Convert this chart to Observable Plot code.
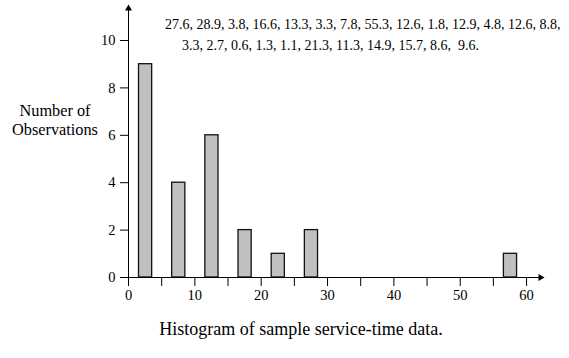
<!DOCTYPE html>
<html><head><meta charset="utf-8">
<script src="https://cdn.jsdelivr.net/npm/d3@7"></script>
<script src="https://cdn.jsdelivr.net/npm/@observablehq/plot@0.6"></script>
<style>
body{margin:0;background:#fff;}
#wrap{position:relative;width:569px;height:358px;font-family:"Liberation Serif","Times New Roman",serif;color:#000;}
#chart{position:absolute;left:0;top:0;}
.ann{position:absolute;white-space:pre;font-size:14px;line-height:1;}
</style></head>
<body><div id="wrap"><div id="chart"></div></div>
<script>
// Sample service-time data (as printed on the chart)
const serviceTimes = [27.6, 28.9, 3.8, 16.6, 13.3, 3.3, 7.8, 55.3, 12.6, 1.8, 12.9, 4.8, 12.6, 8.8,
  3.3, 2.7, 0.6, 1.3, 1.1, 21.3, 11.3, 14.9, 15.7, 8.6, 9.6];
const binEdges = [0, 5, 10, 15, 20, 25, 30, 35, 40, 45, 50, 55, 60];
const xTickLabels = [0, 10, 20, 30, 40, 50, 60];
const yTicks = [0, 2, 4, 6, 8, 10];
const yLabelLines = ["Number of", "Observations"];
const captionText = "Histogram of sample service-time data.";
const xMax = 62.1, yMax = 11.35;

const plot = Plot.plot({
  width: 569, height: 307,
  marginLeft: 128, marginRight: 29, marginTop: 8, marginBottom: 30,
  style: {fontFamily: "Liberation Serif", fontSize: "14px", color: "#000", background: "transparent"},
  x: {domain: [0, xMax], label: null},
  y: {domain: [0, yMax], label: null},
  marks: [
    Plot.rectY(serviceTimes, Plot.binX({y: "count"}, {x: d => d, thresholds: binEdges,
      fill: "#c0c0c0", stroke: "#111", strokeWidth: 1.3, insetLeft: 10.5, insetRight: 9.5})),
    Plot.axisX({ticks: binEdges, tickSize: 9, tickPadding: 3, fontSize: 14, fontFamily: "Liberation Serif",
      tickFormat: d => xTickLabels.includes(d) ? String(d) : "", label: null}),
    Plot.axisY({ticks: yTicks, tickSize: 8, tickPadding: 5, fontSize: 14, fontFamily: "Liberation Serif", label: null}),
    Plot.ruleY([0], {stroke: "#000", strokeWidth: 1}),
    Plot.ruleX([0], {stroke: "#000", strokeWidth: 1}),
    Plot.dot([{x: xMax, y: 0}], {x: "x", y: "y", symbol: "triangle", r: 2.6, fill: "#000", rotate: 90}),
    Plot.dot([{x: 0, y: yMax}], {x: "x", y: "y", symbol: "triangle", r: 2.6, fill: "#000"})
  ]
});
d3.select(plot).selectAll("text")
  .style("font-size", "14.5px").style("font-family", "'Liberation Serif', serif");
document.getElementById("chart").appendChild(plot);

const wrap = document.getElementById("wrap");
function addText(txt, css) {
  const d = document.createElement("div");
  d.className = "ann";
  d.textContent = txt;
  Object.assign(d.style, css);
  wrap.appendChild(d);
  return d;
}
const fmt = v => v.toFixed(1);
addText(serviceTimes.slice(0, 14).map(fmt).join(", ") + ",", {left: "165px", top: "18px"});
addText(serviceTimes.slice(14, 24).map(fmt).join(", ") + ",  " + fmt(serviceTimes[24]) + ".", {left: "182px", top: "39px"});
addText(yLabelLines.join("\n"), {left: "0px", width: "110px", top: "101px", fontSize: "16.3px", lineHeight: "19px", textAlign: "center"});
addText(captionText, {left: "0px", width: "602px", top: "320px", fontSize: "18px", textAlign: "center"});
</script></body></html>
